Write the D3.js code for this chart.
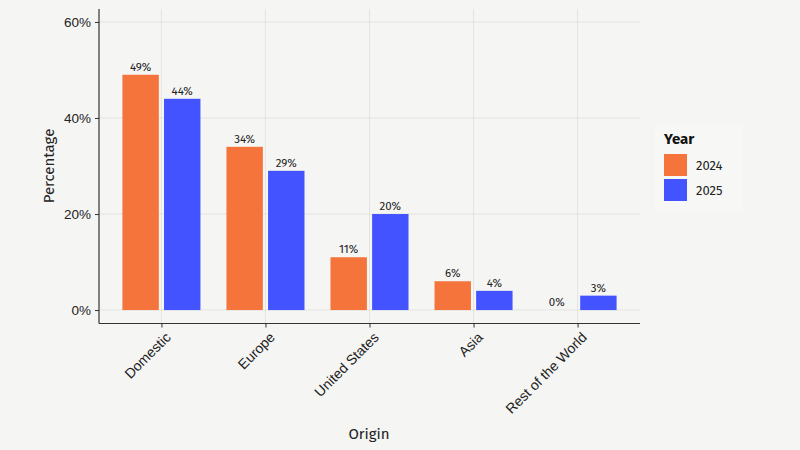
<!DOCTYPE html>
<html><head><meta charset="utf-8">
<script src="https://cdn.jsdelivr.net/npm/d3@7"></script>
<style>
body{margin:0;background:#f5f5f3;}
svg{display:block;font-family:"Fira Sans","Noto Sans","Open Sans",sans-serif;}
</style></head><body>
<svg id="chart" width="800" height="450"></svg>
<script>
const categories = ["Domestic","Europe","United States","Asia","Rest of the World"];
const years = ["2024","2025"];
const values2024 = [49,34,11,6,0];
const values2025 = [44,29,20,4,3];
const yTicks = [0,20,40,60];
const colors = ["#f4743b","#4353ff"];

(function(){
const svg = d3.select("#chart");
svg.append("rect").attr("width",800).attr("height",450).attr("fill","#f5f5f3");

const pLeft = 99, pRight = 640, pTop = 9, pBottom = 323.5;
const x = d3.scaleLinear().domain([0.4, categories.length + 0.6]).range([pLeft, pRight]);
const y = d3.scaleLinear().domain([-2.8, 62.7]).range([pBottom, pTop]);
const unit = x(2) - x(1);

// grid
const g = svg.append("g");
g.selectAll(".hg").data(yTicks).join("line")
  .attr("x1",pLeft).attr("x2",pRight).attr("y1",d=>y(d)).attr("y2",d=>y(d))
  .attr("stroke","#e3e3e1").attr("stroke-width",1);
g.selectAll(".vg").data(categories).join("line")
  .attr("x1",(d,i)=>x(i+1)).attr("x2",(d,i)=>x(i+1)).attr("y1",pTop).attr("y2",pBottom)
  .attr("stroke","#e3e3e1").attr("stroke-width",1);

// bars
const series = [values2024, values2025];
series.forEach((vals, s) => {
  const off = (s === 0 ? -0.2 : 0.2) * unit;
  const bw = 0.35 * unit;
  svg.append("g").selectAll("rect").data(vals).join("rect")
    .attr("x",(d,i)=>x(i+1)+off-bw/2)
    .attr("width",bw)
    .attr("y",d=>y(d))
    .attr("height",d=>y(0)-y(d))
    .attr("fill",colors[s]);
  svg.append("g").selectAll("text").data(vals).join("text")
    .attr("x",(d,i)=>x(i+1)+off)
    .attr("y",d=>y(d)-4)
    .attr("text-anchor","middle")
    .attr("font-size",11.5)
    .attr("fill","#222")
    .text(d=>d+"%");
});

// y axis
const yAxis = d3.axisLeft(y).tickValues(yTicks).tickFormat(d=>d+"%").tickSize(4).tickPadding(4);
const ya = svg.append("g").attr("transform",`translate(${pLeft},0)`).call(yAxis);
ya.select(".domain").attr("d",`M0,${pTop}V${pBottom}`).attr("stroke","#333").attr("stroke-width",1.2);
ya.selectAll(".tick line").attr("stroke","#333");
ya.selectAll(".tick text").attr("font-size",13.5).attr("fill","#222").attr("font-family",null);

// x axis
const xAxis = d3.axisBottom(x).tickValues(d3.range(1, categories.length+1)).tickFormat(d=>categories[d-1]).tickSize(4).tickPadding(4);
const xa = svg.append("g").attr("transform",`translate(0,${pBottom})`).call(xAxis);
xa.select(".domain").attr("d",`M${pLeft},0H${pRight}`).attr("stroke","#333").attr("stroke-width",1.2);
xa.selectAll(".tick line").attr("stroke","#333");
xa.selectAll(".tick text")
  .attr("font-size",14).attr("fill","#222").attr("font-family",null)
  .attr("text-anchor","end")
  .attr("transform","translate(0,5) rotate(-45)")
  .attr("dy","0.7em").attr("y",4);

// titles
svg.append("text").attr("x",369).attr("y",439).attr("text-anchor","middle")
  .attr("font-size",15).attr("fill","#222").text("Origin");
svg.append("text").attr("transform","translate(54,166) rotate(-90)").attr("text-anchor","middle")
  .attr("font-size",15).attr("fill","#222").text("Percentage");

// legend
const lg = svg.append("g");
lg.append("rect").attr("x",655).attr("y",124).attr("width",88).attr("height",88).attr("fill","#f7f7f5");
lg.append("text").attr("x",664).attr("y",144).attr("font-size",15).attr("font-weight","bold").attr("fill","#111").text("Year");
years.forEach((yr,i)=>{
  lg.append("rect").attr("x",664).attr("y",154+i*25).attr("width",23).attr("height",22).attr("fill",colors[i]);
  lg.append("text").attr("x",696).attr("y",165+i*25).attr("dy","0.35em").attr("font-size",13).attr("fill","#222").text(yr);
});
})();
</script>
</body></html>
